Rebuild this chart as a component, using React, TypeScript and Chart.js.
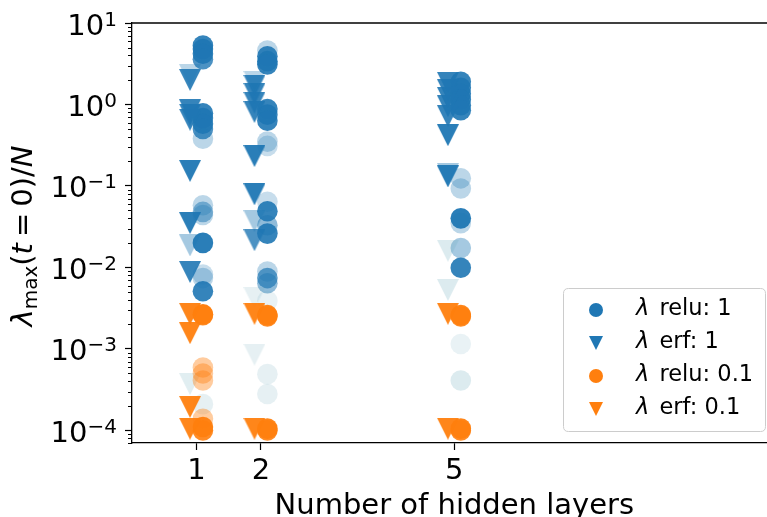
import React, { useEffect, useRef } from "react";
import { Chart, registerables } from "chart.js";

Chart.register(...registerables);

const FONT = "'DejaVu Sans', sans-serif";

// ---- axis settings ----
const xTickValues = [1, 2, 5];
const yMajorExponents = [-4, -3, -2, -1, 0, 1];
const yMin = 7.5e-5;
const yMax = 10;
const xMin = 0;
const xMax = 9.85;
const xFullRangeMax = 10; // the original axis runs to 10; the picture is cropped a little before

const legendLabels = ["relu: 1", "erf: 1", "relu: 0.1", "erf: 0.1"];
const xTitle = "Number of hidden layers";

// ---- λ relu: 1 (blue circles) ----
const reluOneLayer = [
  1, 1, 1, 1, 1, 1, 1, 1, 1, 1, 1, 1, 1, 1, 1, 1, 1,
  2, 2, 2, 2, 2, 2, 2, 2, 2, 2, 2, 2, 2, 2, 2, 2, 2, 2, 2,
  5, 5, 5, 5, 5, 5, 5, 5, 5, 5, 5, 5, 5, 5,
];
const reluOneValue = [
  5.3, 4.8, 4.2, 3.6, 0.78, 0.68, 0.58, 0.5, 0.38, 0.058, 0.048, 0.044, 0.02, 0.0082, 0.0074, 0.0051, 0.00021,
  4.6, 3.9, 3.4, 3.1, 0.88, 0.75, 0.63, 0.35, 0.31, 0.064, 0.049, 0.033, 0.026, 0.0089, 0.0074, 0.0064, 0.0039, 0.00049, 0.00028,
  1.9, 1.6, 1.35, 1.15, 0.98, 0.85, 0.124, 0.093, 0.04, 0.035, 0.0173, 0.0099, 0.00115, 0.00041,
];
const reluOneOpacity = [
  0.9, 0.9, 0.9, 0.8, 0.9, 0.9, 0.9, 0.8, 0.3, 0.3, 0.5, 0.3, 0.95, 0.25, 0.3, 0.9, 0.12,
  0.3, 0.9, 0.9, 0.9, 0.9, 0.9, 0.9, 0.3, 0.25, 0.25, 0.9, 0.5, 0.9, 0.3, 0.7, 0.5, 0.1, 0.12, 0.12,
  0.9, 0.9, 0.9, 0.9, 0.9, 0.9, 0.3, 0.3, 0.95, 0.3, 0.4, 0.9, 0.1, 0.18,
];

// ---- λ erf: 1 (blue triangles) ----
const erfOneLayer = [
  1, 1, 1, 1, 1, 1, 1, 1, 1, 1, 1,
  2, 2, 2, 2, 2, 2, 2, 2, 2, 2, 2,
  5, 5, 5, 5, 5, 5, 5, 5, 5, 5,
];
const erfOneValue = [
  2.3, 2.0, 0.85, 0.75, 0.65, 0.153, 0.035, 0.0186, 0.0088, 0.0027, 0.00037,
  1.9, 1.7, 1.35, 1.05, 0.81, 0.233, 0.079, 0.037, 0.0216, 0.0042, 0.00085,
  1.84, 1.5, 1.2, 0.95, 0.72, 0.42, 0.14, 0.131, 0.016, 0.0053,
];
const erfOneOpacity = [
  0.3, 0.9, 0.9, 0.9, 0.9, 0.95, 0.95, 0.4, 0.9, 0.15, 0.15,
  0.3, 0.9, 0.9, 0.9, 0.9, 0.95, 0.95, 0.4, 0.8, 0.12, 0.12,
  0.9, 0.9, 0.9, 0.9, 0.9, 0.95, 0.4, 0.95, 0.18, 0.18,
];

// ---- λ relu: 0.1 (orange circles) ----
const reluTenthLayer = [1, 1, 1, 1, 1, 1, 1, 1, 2, 2, 2, 2, 5, 5, 5, 5];
const reluTenthValue = [
  0.00266, 0.0026, 0.00059, 0.0005, 0.00041, 0.000139, 0.00011, 0.0001,
  0.0026, 0.0025, 0.000105, 0.0001,
  0.0026, 0.0025, 0.000105, 0.0001,
];
const reluTenthOpacity = [0.95, 0.9, 0.4, 0.4, 0.4, 0.4, 0.95, 0.9, 0.95, 0.9, 0.95, 0.9, 0.95, 0.9, 0.95, 0.9];

// ---- λ erf: 0.1 (orange triangles) ----
const erfTenthLayer = [1, 1, 1, 1, 2, 2, 5, 5];
const erfTenthValue = [0.0027, 0.00156, 0.000194, 0.000105, 0.0027, 0.000105, 0.0027, 0.000105];
const erfTenthOpacity = [0.95, 0.95, 0.95, 0.95, 0.95, 0.95, 0.95, 0.95];

// ---- styling ----
const BLUE = "31,119,180";
const ORANGE = "255,127,14";
const PALE = "105,168,185";
const RELU_SHIFT = 0.1;
const ERF_SHIFT = -0.1;

const colorFor = (base: string, op: number) =>
  op < 0.2 ? `rgba(${PALE},${op + 0.05})` : `rgba(${base},${op})`;

const triCache: Record<string, HTMLCanvasElement> = {};
function triangleImage(color: string, size = 22): HTMLCanvasElement {
  const key = color + "|" + size;
  if (triCache[key]) return triCache[key];
  const c = document.createElement("canvas");
  c.width = size;
  c.height = size;
  const g = c.getContext("2d")!;
  g.fillStyle = color;
  g.beginPath();
  g.moveTo(0, 0);
  g.lineTo(size, 0);
  g.lineTo(size / 2, size);
  g.closePath();
  g.fill();
  triCache[key] = c;
  return c;
}

function makeDataset(
  label: string,
  layers: number[],
  values: number[],
  opacity: number[],
  base: string,
  shape: "circle" | "triangle",
  shift: number,
  order: number
) {
  const colors = opacity.map((o) => colorFor(base, o));
  return {
    label,
    data: layers.map((l, i) => ({ x: l + shift, y: values[i] })),
    showLine: false,
    order,
    pointRadius: shape === "circle" ? 10.3 : 11,
    pointBorderWidth: 0,
    pointBorderColor: "rgba(0,0,0,0)",
    pointBackgroundColor: colors,
    backgroundColor: colors,
    pointStyle: shape === "circle" ? "circle" : colors.map((c) => triangleImage(c)),
  };
}

const supText = (e: number) => (e < 0 ? "\u2212" + -e : String(e));

const decorPlugin = {
  id: "decor",
  afterDraw(chart: any) {
    const { ctx, chartArea: ca, scales } = chart;
    const ys = scales.y;
    const xs = scales.x;
    ctx.save();
    // top spine
    ctx.strokeStyle = "#000";
    ctx.lineWidth = 1.3;
    ctx.beginPath();
    ctx.moveTo(ca.left, ca.top);
    ctx.lineTo(ca.right, ca.top);
    ctx.stroke();

    // minor ticks
    ctx.lineWidth = 1;
    ctx.beginPath();
    for (let e = -6; e <= 1; e++) {
      for (let k = 2; k <= 9; k++) {
        const v = k * Math.pow(10, e);
        if (v < ys.min || v > ys.max) continue;
        const py = Math.round(ys.getPixelForValue(v)) + 0.5;
        ctx.moveTo(ca.left - 4, py);
        ctx.lineTo(ca.left, py);
      }
    }
    ctx.stroke();

    // y tick labels 10^n
    ctx.fillStyle = "#000";
    ctx.textBaseline = "alphabetic";
    ctx.textAlign = "left";
    const mainFont = `29px ${FONT}`;
    const supFont = `20px ${FONT}`;
    for (const e of yMajorExponents) {
      const py = ys.getPixelForValue(Math.pow(10, e));
      ctx.font = supFont;
      const s = supText(e);
      const sw = ctx.measureText(s).width;
      ctx.font = mainFont;
      const mw = ctx.measureText("10").width;
      const right = ca.left - 15;
      const x0 = right - sw - mw;
      ctx.fillText("10", x0, py + 11.5);
      ctx.font = supFont;
      ctx.fillText(s, x0 + mw, py + 11.5 - 9);
    }

    // x title, centred on the full original axis range
    ctx.font = `29px ${FONT}`;
    ctx.textAlign = "center";
    ctx.fillText(xTitle, xs.getPixelForValue(xFullRangeMax / 2), 513.5);
    ctx.textAlign = "left";

    // y title: λ_max(t = 0)/N
    const cy = (ca.top + ca.bottom) / 2 + 3;
    const parts: { t: string; f: string; dy?: number; pre?: number }[] = [
      { t: "λ", f: `italic 29px ${FONT}` },
      { t: "max", f: `20px ${FONT}`, dy: 5 },
      { t: "(", f: `29px ${FONT}` },
      { t: "t", f: `italic 29px ${FONT}` },
      { t: "=", f: `29px ${FONT}`, pre: 6 },
      { t: "0)/", f: `29px ${FONT}`, pre: 6 },
      { t: "N", f: `italic 29px ${FONT}` },
    ];
    let total = 0;
    for (const p of parts) {
      ctx.font = p.f;
      total += ctx.measureText(p.t).width + (p.pre || 0);
    }
    ctx.translate(32, cy);
    ctx.rotate(-Math.PI / 2);
    let px = -total / 2;
    for (const p of parts) {
      ctx.font = p.f;
      px += p.pre || 0;
      ctx.fillText(p.t, px, p.dy || 0);
      px += ctx.measureText(p.t).width;
    }
    ctx.setTransform(1, 0, 0, 1, 0, 0);

    // legend
    const lx = 563.5, ly = 288.5, lw = 202, lh = 143, r = 5;
    ctx.beginPath();
    ctx.moveTo(lx + r, ly);
    ctx.lineTo(lx + lw - r, ly);
    ctx.quadraticCurveTo(lx + lw, ly, lx + lw, ly + r);
    ctx.lineTo(lx + lw, ly + lh - r);
    ctx.quadraticCurveTo(lx + lw, ly + lh, lx + lw - r, ly + lh);
    ctx.lineTo(lx + r, ly + lh);
    ctx.quadraticCurveTo(lx, ly + lh, lx, ly + lh - r);
    ctx.lineTo(lx, ly + r);
    ctx.quadraticCurveTo(lx, ly, lx + r, ly);
    ctx.closePath();
    ctx.fillStyle = "rgba(255,255,255,0.8)";
    ctx.fill();
    ctx.strokeStyle = "#cccccc";
    ctx.lineWidth = 1;
    ctx.stroke();

    const rowColors = [BLUE, BLUE, ORANGE, ORANGE];
    const rowShapes = ["circle", "triangle", "circle", "triangle"];
    legendLabels.forEach((lab, i) => {
      const ry = 310 + i * 33;
      const mx = 596;
      ctx.fillStyle = `rgb(${rowColors[i]})`;
      if (rowShapes[i] === "circle") {
        ctx.beginPath();
        ctx.arc(mx, ry, 7, 0, Math.PI * 2);
        ctx.fill();
      } else {
        ctx.beginPath();
        ctx.moveTo(mx - 7, ry - 7);
        ctx.lineTo(mx + 7, ry - 7);
        ctx.lineTo(mx, ry + 7);
        ctx.closePath();
        ctx.fill();
      }
      ctx.fillStyle = "#000";
      ctx.font = `italic 22.5px ${FONT}`;
      ctx.fillText("λ", 636, ry + 5);
      const lwid = ctx.measureText("λ").width;
      ctx.font = `22.5px ${FONT}`;
      ctx.fillText(" " + lab, 636 + lwid + 3, ry + 5);
    });

    ctx.restore();
  },
};

export default function App() {
  const ref = useRef<HTMLCanvasElement>(null);
  useEffect(() => {
    if (!ref.current) return;
    Chart.defaults.color = "#000";
    Chart.defaults.font.family = FONT;
    const chart = new Chart(ref.current, {
      type: "scatter",
      data: {
        datasets: [
          makeDataset("λ relu: 1", reluOneLayer, reluOneValue, reluOneOpacity, BLUE, "circle", RELU_SHIFT, 3),
          makeDataset("λ erf: 1", erfOneLayer, erfOneValue, erfOneOpacity, BLUE, "triangle", ERF_SHIFT, 2),
          makeDataset("λ relu: 0.1", reluTenthLayer, reluTenthValue, reluTenthOpacity, ORANGE, "circle", RELU_SHIFT, 1),
          makeDataset("λ erf: 0.1", erfTenthLayer, erfTenthValue, erfTenthOpacity, ORANGE, "triangle", ERF_SHIFT, 0),
        ] as any,
      },
      options: {
        animation: false,
        responsive: false,
        maintainAspectRatio: false,
        devicePixelRatio: 1,
        layout: { autoPadding: false, padding: { top: 23, left: 0, right: 0, bottom: 0 } },
        plugins: {
          legend: { display: false },
          tooltip: { enabled: false },
        },
        scales: {
          x: {
            type: "linear",
            min: xMin,
            max: xMax,
            afterBuildTicks: (scale: any) => {
              scale.ticks = xTickValues.map((v) => ({ value: v }));
            },
            afterFit: (scale: any) => {
              scale.height = 74;
              scale.paddingLeft = 0;
              scale.paddingRight = 0;
            },
            ticks: {
              autoSkip: false,
              maxRotation: 0,
              padding: 4,
              font: { size: 29, family: FONT },
              color: "#000",
              callback: (v: any) => String(v),
            },
            grid: {
              drawOnChartArea: false,
              drawTicks: true,
              tickLength: 7,
              tickColor: "#000",
              tickWidth: 1.2,
            },
            border: { display: true, color: "#000", width: 1.3 },
            title: { display: false },
          },
          y: {
            type: "logarithmic",
            min: yMin,
            max: yMax,
            afterBuildTicks: (scale: any) => {
              scale.ticks = yMajorExponents.map((e) => ({ value: Math.pow(10, e), major: true }));
            },
            afterFit: (scale: any) => {
              scale.width = 132;
              scale.paddingTop = 0;
              scale.paddingBottom = 0;
            },
            ticks: { display: false },
            grid: {
              drawOnChartArea: false,
              drawTicks: true,
              tickLength: 7,
              tickColor: "#000",
              tickWidth: 1.2,
            },
            border: { display: true, color: "#000", width: 1.3 },
          },
        },
      } as any,
      plugins: [decorPlugin],
    });
    return () => chart.destroy();
  }, []);
  return (
    <div style={{ position: "fixed", left: 0, top: 0, width: 767, height: 517, background: "#fff" }}>
      <canvas ref={ref} width={767} height={517} style={{ display: "block", width: 767, height: 517 }} />
    </div>
  );
}
